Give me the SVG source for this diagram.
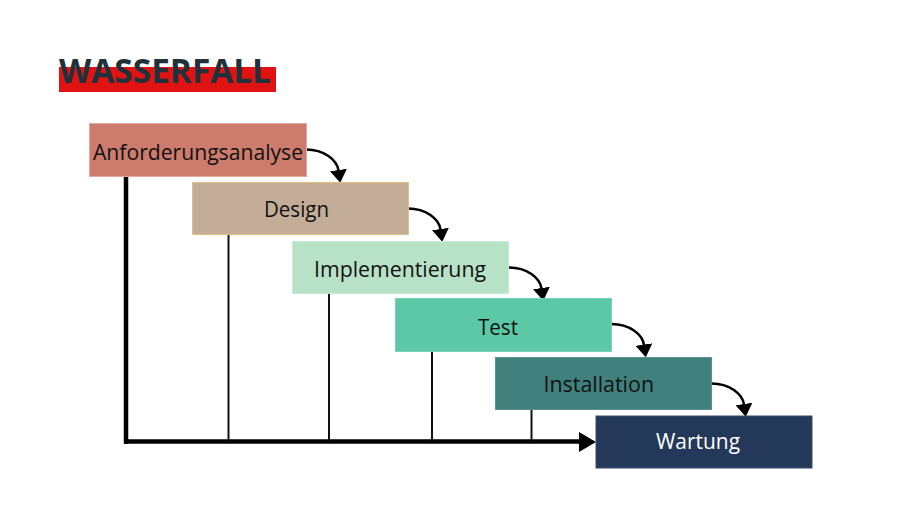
<svg xmlns="http://www.w3.org/2000/svg" width="902" height="529" viewBox="0 0 902 529">
  <style>
    .lbl { font-family: "Open Sans", "Noto Sans", "Liberation Sans", sans-serif; font-size: 21.5px; fill: #111111; }
    .title { font-family: "Open Sans", "Noto Sans", "Liberation Sans", sans-serif; font-size: 34px; font-weight: bold; fill: #1f323b; }
    .curve { fill: none; stroke: #000000; stroke-width: 2.5; }
    .drop { stroke: #111111; stroke-width: 2; fill: none; }
    .axis { stroke: #000000; stroke-width: 4.5; fill: none; }
  </style>
  <defs>
    <marker id="head" markerUnits="userSpaceOnUse" markerWidth="13" markerHeight="17" viewBox="0 0 13 17" refX="0.5" refY="8.5" orient="auto">
      <path d="M0,0 L13,8.5 L0,17 z" fill="#000000"/>
    </marker>
  </defs>
  <rect width="902" height="529" fill="#ffffff"/>

  <g id="title">
    <rect x="59" y="67" width="217" height="25" fill="#e01212"/>
    <text class="title" x="59" y="83" textLength="212" lengthAdjust="spacingAndGlyphs">WASSERFALL</text>
  </g>

  <g id="connectors">
    <line class="axis" x1="126" y1="176" x2="126" y2="443.7"/>
    <line class="axis" x1="124" y1="441.5" x2="581" y2="441.5"/>
    <polygon points="579,432 596,442 579,452" fill="#000000"/>
    <line class="drop" x1="228.5" y1="234" x2="228.5" y2="441"/>
    <line class="drop" x1="329" y1="293" x2="329" y2="441"/>
    <line class="drop" x1="432" y1="351" x2="432" y2="441"/>
    <line class="drop" x1="531.5" y1="409" x2="531.5" y2="441"/>
    <path class="curve" marker-end="url(#head)" d="M306,149.5 C324,149.5 337,160 338.5,170.5"/>
    <path class="curve" marker-end="url(#head)" d="M408,208.5 C426,208.5 439,219 440.5,229.5"/>
    <path class="curve" marker-end="url(#head)" d="M509,267.5 C527,267.5 540,278 541.5,288.5"/>
    <path class="curve" marker-end="url(#head)" d="M611.5,324 C629.5,324 642.5,334.5 644,345"/>
    <path class="curve" marker-end="url(#head)" d="M711.5,383.5 C729.5,383.5 742.5,394 744,404.5"/>
  </g>

  <g id="node-anforderungsanalyse">
    <rect x="89.5" y="123.5" width="217" height="53" fill="#cc7b6d" stroke="#e3aaa0" stroke-width="1"/>
    <text class="lbl" x="93" y="159.5" textLength="210" lengthAdjust="spacingAndGlyphs">Anforderungsanalyse</text>
  </g>
  <g id="node-design">
    <rect x="192.5" y="182.5" width="216" height="52" fill="#c4ad98" stroke="#dfc07e" stroke-width="1"/>
    <text class="lbl" x="264" y="217" textLength="65" lengthAdjust="spacingAndGlyphs">Design</text>
  </g>
  <g id="node-implementierung">
    <rect x="292.5" y="241.5" width="216" height="52" fill="#b8e2c8" stroke="#c9ebd6" stroke-width="1"/>
    <text class="lbl" x="314" y="276.7" textLength="172" lengthAdjust="spacingAndGlyphs">Implementierung</text>
  </g>
  <g id="node-test">
    <rect x="395.5" y="298.5" width="216" height="53" fill="#5bc9a6" stroke="#76d3b5" stroke-width="1"/>
    <text class="lbl" x="478" y="334.5" textLength="40" lengthAdjust="spacingAndGlyphs">Test</text>
  </g>
  <g id="node-installation">
    <rect x="495.5" y="357.5" width="216" height="52" fill="#40807d" stroke="#5a9390" stroke-width="1"/>
    <text class="lbl" x="543.5" y="392.3" textLength="110.5" lengthAdjust="spacingAndGlyphs">Installation</text>
  </g>
  <g id="node-wartung">
    <rect x="596" y="416" width="216" height="52" fill="#243859" stroke="#3a4d6c" stroke-width="1"/>
    <text class="lbl" x="656" y="449" textLength="84" lengthAdjust="spacingAndGlyphs" style="fill:#ffffff">Wartung</text>
  </g>
</svg>
